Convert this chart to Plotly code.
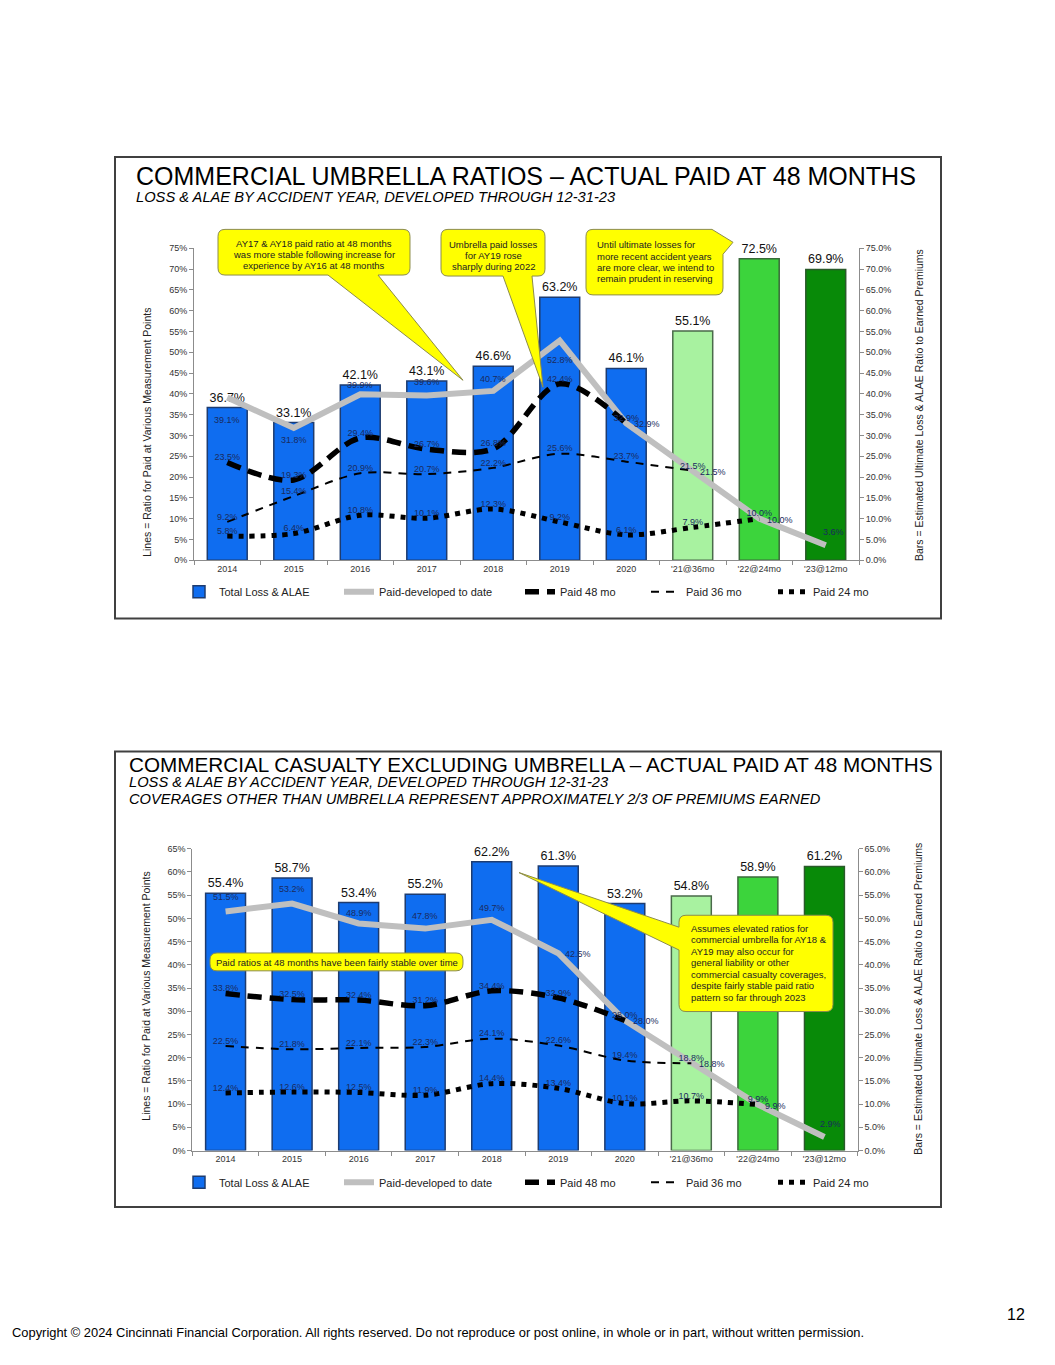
import math
import plotly.graph_objects as go

W, H = 1055, 1365
OFF = 8                      # browser body margin
FW, FH = W - 2 * OFF, H - 2 * OFF

# ---------------- data ----------------
categories = ["2014", "2015", "2016", "2017", "2018", "2019", "2020",
              "'21@36mo", "'22@24mo", "'23@12mo"]

umb_total = [36.7, 33.1, 42.1, 43.1, 46.6, 63.2, 46.1, 55.1, 72.5, 69.9]
umb_paid_to_date = [39.1, 31.8, 39.9, 39.6, 40.7, 52.8, 32.9, 21.5, 10.0, 3.6]
umb_paid48 = [23.5, 19.3, 29.4, 26.7, 26.8, 42.4, 32.9]
umb_paid36 = [9.2, 15.4, 20.9, 20.7, 22.2, 25.6, 23.7, 21.5]
umb_paid24 = [5.8, 6.4, 10.8, 10.1, 12.3, 9.2, 6.1, 7.9, 10.0]

cas_total = [55.4, 58.7, 53.4, 55.2, 62.2, 61.3, 53.2, 54.8, 58.9, 61.2]
cas_paid_to_date = [51.5, 53.2, 48.9, 47.8, 49.7, 42.5, 28.0, 18.8, 9.9, 2.9]
cas_paid48 = [33.8, 32.5, 32.4, 31.2, 34.4, 32.9, 28.0]
cas_paid36 = [22.5, 21.8, 22.1, 22.3, 24.1, 22.6, 19.4, 18.8]
cas_paid24 = [12.4, 12.6, 12.5, 11.9, 14.4, 13.4, 10.1, 10.7, 9.9]

series_names = ["Total Loss & ALAE", "Paid-developed to date",
                "Paid 48 mo", "Paid 36 mo", "Paid 24 mo"]

# ---------------- styles ----------------
BASE = "Liberation Sans, Arial, sans-serif"
LABEL_COLOR = "#1A2B5E"
bar_colors = ["#0F6DF0"] * 7 + ["#A8F2A0", "#3CD43C", "#088A08"]
bar_lines = ["#1E3C70"] * 7 + ["#4A6A4A", "#3A6A3A", "#2A5A2A"]

# label offsets (px) for the "paid-developed to date" data labels
umb_ptd_shift = [(0, -22), (0, -12), (0, 9), (0, 13), (0, 12), (0, -19),
                 (21, -1), (20, -1), (21, -1), (8, 13)]
cas_ptd_shift = [(0, 14), (0, 15), (0, 10), (0, 13), (0, 12), (20, -1),
                 (21, 0), (21, -1), (18, -1), (6, 13)]


def px(x):
    return (x - OFF) / FW


def py(y):
    return 1 - (y - OFF) / FH


fig = go.Figure()
ann = []


def add_chart(xa, ya_bar, ya_line, total, ptd, p48, p36, p24, ptd_shift, legends):
    fig.add_trace(go.Bar(
        x=categories, y=total, xaxis=xa, yaxis=ya_bar,
        name=series_names[0], legend=legends[0],
        marker=dict(color=bar_colors, line=dict(color=bar_lines, width=1.5)),
        text=[f"{v:.1f}%" for v in total], textposition="outside",
        textfont=dict(family=BASE, size=12.5, color="#111111"),
        cliponaxis=False, constraintext="none", hoverinfo="skip"))
    fig.add_trace(go.Scatter(
        x=categories, y=ptd, xaxis=xa, yaxis=ya_line, mode="lines",
        name=series_names[1], legend=legends[1],
        line=dict(color="#BFBFBF", width=6),
        cliponaxis=False, hoverinfo="skip"))
    for i, (v, (dx, dy)) in enumerate(zip(ptd, ptd_shift)):
        ann.append(dict(x=i, y=v, xref=xa, yref=ya_line, text=f"{v:.1f}%",
                        showarrow=False, xshift=dx, yshift=dy,
                        font=dict(family=BASE, size=9, color=LABEL_COLOR)))
    fig.add_trace(go.Scatter(
        x=categories[:len(p48)], y=p48, xaxis=xa, yaxis=ya_line, mode="lines+text",
        name=series_names[2], legend=legends[2],
        line=dict(color="#000000", width=5.5, dash="14px,8px", shape="spline", smoothing=0.9),
        text=[f"{v:.1f}%" for v in p48], textposition="top center",
        textfont=dict(family=BASE, size=9, color=LABEL_COLOR),
        cliponaxis=False, hoverinfo="skip"))
    fig.add_trace(go.Scatter(
        x=categories[:len(p36)], y=p36, xaxis=xa, yaxis=ya_line, mode="lines+text",
        name=series_names[3], legend=legends[3],
        line=dict(color="#000000", width=2, dash="8px,7px", shape="spline", smoothing=0.9),
        text=[f"{v:.1f}%" for v in p36], textposition="top center",
        textfont=dict(family=BASE, size=9, color=LABEL_COLOR),
        cliponaxis=False, hoverinfo="skip"))
    fig.add_trace(go.Scatter(
        x=categories[:len(p24)], y=p24, xaxis=xa, yaxis=ya_line, mode="lines+text",
        name=series_names[4], legend=legends[4],
        line=dict(color="#000000", width=5, dash="5px,6px", shape="spline", smoothing=0.9),
        text=[f"{v:.1f}%" for v in p24], textposition="top center",
        textfont=dict(family=BASE, size=9, color=LABEL_COLOR),
        cliponaxis=False, hoverinfo="skip"))


add_chart("x", "y", "y2", umb_total, umb_paid_to_date, umb_paid48, umb_paid36, umb_paid24,
          umb_ptd_shift, ["legend", "legend2", "legend3", "legend4", "legend5"])
add_chart("x2", "y3", "y4", cas_total, cas_paid_to_date, cas_paid48, cas_paid36, cas_paid24,
          cas_ptd_shift, ["legend6", "legend7", "legend8", "legend9", "legend10"])

tickfont = dict(family=BASE, size=9, color="#333333")
axis_common = dict(showgrid=False, zeroline=False, showline=True, linecolor="#8C8C8C",
                   linewidth=1, ticks="outside", ticklen=4, tickcolor="#8C8C8C",
                   tickfont=tickfont, fixedrange=True)
xcat = dict(type="category", categoryorder="array", categoryarray=categories,
            range=[-0.5, len(categories) - 0.5], autorange=False, tickson="boundaries")

# chart geometry (page pixels)
c1_x0, c1_x1, c1_y0, c1_y75 = 194, 859, 559.3, 245.0
c2_x0, c2_x1, c2_y0, c2_y65 = 192.3, 857.7, 1154.0, 850.0

layout = dict(
    width=FW, height=FH, autosize=False,
    margin=dict(l=0, r=0, t=0, b=0, pad=0),
    paper_bgcolor="white", plot_bgcolor="white",
    bargap=0.4, showlegend=True,
    xaxis=dict(domain=[px(c1_x0), px(c1_x1)], anchor="y", **xcat, **axis_common),
    yaxis=dict(domain=[py(c1_y0), py(c1_y75)], anchor="x", side="right",
               range=[0, 75], dtick=5, tickformat=".1f", ticksuffix="%", **axis_common),
    yaxis2=dict(overlaying="y", anchor="x", side="left",
                range=[0, 75], dtick=5, tickformat="d", ticksuffix="%", **axis_common),
    xaxis2=dict(domain=[px(c2_x0), px(c2_x1)], anchor="y3", **xcat, **axis_common),
    yaxis3=dict(domain=[py(c2_y0), py(c2_y65)], anchor="x2", side="right",
                range=[0, 65], dtick=5, tickformat=".1f", ticksuffix="%", **axis_common),
    yaxis4=dict(overlaying="y3", anchor="x2", side="left",
                range=[0, 65], dtick=5, tickformat="d", ticksuffix="%", **axis_common),
)

# legends: one per series so each sits where the reference puts it
leg_text_x = [221, 381, 562, 688, 815]
for i in range(10):
    key = "legend" if i == 0 else f"legend{i + 1}"
    ypix = 591 if i < 5 else 1186
    layout[key] = dict(x=px(leg_text_x[i % 5] - 42), y=py(ypix), xanchor="left",
                       yanchor="middle", orientation="h", bgcolor="rgba(0,0,0,0)",
                       font=dict(family=BASE, size=11, color="#222222"),
                       itemwidth=30, tracegroupgap=0)

fig.update_layout(**layout)

# ---------------- panels ----------------
shapes = []
for (x0, y0, x1, y1) in [(115, 153, 941, 618), (115, 752, 941, 1211)]:
    shapes.append(dict(type="rect", xref="paper", yref="paper",
                       x0=px(x0), x1=px(x1), y0=py(y1), y1=py(y0),
                       line=dict(color="#404040", width=2), fillcolor="rgba(0,0,0,0)",
                       layer="below"))


def callout_path(pts, r=7):
    n = len(pts)
    segs = []

    def pp(x, y):
        return f"{px(x):.5f},{py(y):.5f}"

    for i, (x, y, rd) in enumerate(pts):
        cmd = "M" if i == 0 else "L"
        if rd:
            pxp, pyp = pts[i - 1][:2]
            nxp, nyp = pts[(i + 1) % n][:2]
            d1 = math.hypot(pxp - x, pyp - y)
            d2 = math.hypot(nxp - x, nyp - y)
            bx, by = x + (pxp - x) / d1 * r, y + (pyp - y) / d1 * r
            ax, ay = x + (nxp - x) / d2 * r, y + (nyp - y) / d2 * r
            segs.append(cmd + pp(bx, by))
            segs.append("Q" + pp(x, y) + " " + pp(ax, ay))
        else:
            segs.append(cmd + pp(x, y))
    return " ".join(segs) + " Z"


callouts = [
    # AY17 & AY18
    [(218, 226, 1), (410, 226, 1), (410, 272, 1), (378, 272, 0), (463, 378, 0),
     (328, 272, 0), (218, 272, 1)],
    # Umbrella paid losses
    [(441, 226, 1), (545, 226, 1), (545, 273, 1), (532, 273, 0), (543, 385, 0),
     (503, 273, 0), (441, 273, 1)],
    # Until ultimate losses
    [(586, 226, 1), (712, 226, 0), (733, 239, 0), (723, 251, 0), (723, 292, 1),
     (586, 292, 1)],
    # Paid ratios stable
    [(210, 955, 1), (463, 955, 1), (463, 973, 1), (210, 973, 1)],
    # Assumes elevated ratios
    [(679, 917, 1), (833, 917, 1), (833, 1014, 1), (679, 1014, 1), (679, 952, 0),
     (519, 874, 0), (679, 929, 0)],
]
for pts in callouts:
    shapes.append(dict(type="path", xref="paper", yref="paper", path=callout_path(pts),
                       fillcolor="#FFFF00", line=dict(color="#8C8C4A", width=1),
                       layer="above"))
fig.update_layout(shapes=shapes)

# ---------------- text ----------------


def txt(x, y, s, size, family=BASE, color="#000000", xanchor="left", yanchor="middle",
        angle=0):
    ann.append(dict(x=px(x), y=py(y), xref="paper", yref="paper", text=s, showarrow=False,
                    xanchor=xanchor, yanchor=yanchor, textangle=angle,
                    font=dict(family=family, size=size, color=color)))


txt(134, 172, "COMMERCIAL UMBRELLA RATIOS – ACTUAL PAID AT 48 MONTHS", 25)
txt(134, 193, "<i>LOSS &amp; ALAE BY ACCIDENT YEAR, DEVELOPED THROUGH 12-31-23</i>", 14.7)
txt(127, 765, "COMMERCIAL CASUALTY EXCLUDING UMBRELLA – ACTUAL PAID AT 48 MONTHS", 20.7)
txt(127, 783, "<i>LOSS &amp; ALAE BY ACCIDENT YEAR, DEVELOPED THROUGH 12-31-23</i>", 14.7)
txt(127, 800, "<i>COVERAGES OTHER THAN UMBRELLA REPRESENT APPROXIMATELY 2/3 OF PREMIUMS EARNED</i>",
    14.7)

# axis titles
txt(147, 431, "Lines = Ratio for Paid at Various Measurement Points", 10.5,
    xanchor="center", angle=-90, color="#222222")
txt(919, 403, "Bars = Estimated Ultimate Loss &amp; ALAE Ratio to Earned Premiums", 10.5,
    xanchor="center", angle=-90, color="#222222")
txt(146, 999, "Lines = Ratio for Paid at Various Measurement Points", 10.5,
    xanchor="center", angle=-90, color="#222222")
txt(918, 1001, "Bars = Estimated Ultimate Loss &amp; ALAE Ratio to Earned Premiums", 10.5,
    xanchor="center", angle=-90, color="#222222")

# callout texts
CT = "#222222"
for i, line in enumerate(["AY17 &amp; AY18 paid ratio at 48 months",
                          "was more stable following increase for",
                          "experience by AY16 at 48 months"]):
    txt(314, 240 + 11.3 * i, line, 9.5, color=CT, xanchor="center")
for i, line in enumerate(["Umbrella paid losses", "for AY19 rose", "sharply during 2022"]):
    txt(493, 241.7 + 10.8 * i, line, 9.5, color=CT, xanchor="center")
for i, line in enumerate(["Until ultimate losses for", "more recent accident years",
                          "are more clear, we intend to", "remain prudent in reserving"]):
    txt(595, 241.7 + 11.3 * i, line, 9.5, color=CT)
txt(337, 965, "Paid ratios at 48 months have been fairly stable over time", 9.5, color=CT,
    xanchor="center")
for i, line in enumerate(["Assumes elevated ratios for", "commercial umbrella for AY18 &amp;",
                          "AY19 may also occur for", "general liability or other",
                          "commercial casualty coverages,", "despite fairly stable paid ratio",
                          "pattern so far through 2023"]):
    txt(689, 930 + 11.6 * i, line, 9.5, color=CT)

# footer
txt(10, 1337, "Copyright © 2024 Cincinnati Financial Corporation. All rights reserved. "
    "Do not reproduce or post online, in whole or in part, without written permission.",
    12.9)
txt(1016, 1319, "12", 16, xanchor="center")

fig.update_layout(annotations=ann)

fig.write_html("out.html")
